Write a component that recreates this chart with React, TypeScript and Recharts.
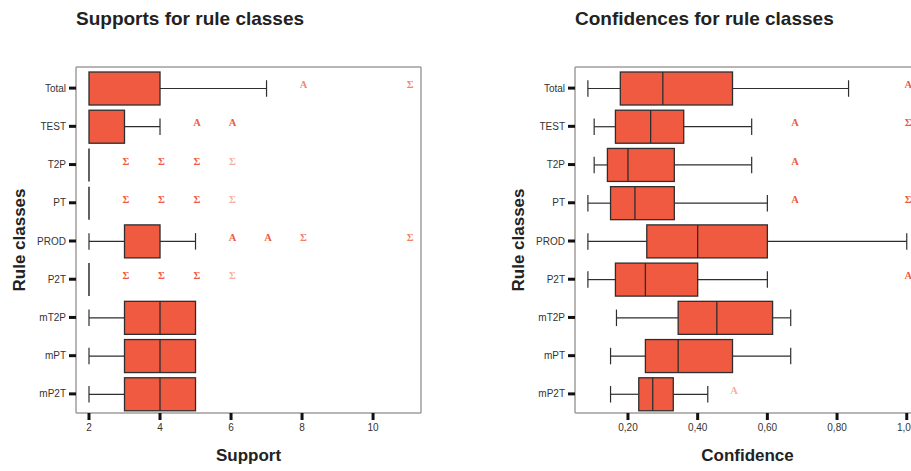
import React from 'react';
import { ComposedChart, Bar, Scatter, XAxis, YAxis, CartesianGrid, Label } from 'recharts';

const ruleClasses = ['Total', 'TEST', 'T2P', 'PT', 'PROD', 'P2T', 'mT2P', 'mPT', 'mP2T'];

// Support: five-number summary per rule class
const supportMin = [2, 2, 2, 2, 2, 2, 2, 2, 2];
const supportQ1 = [2, 2, 2, 2, 3, 2, 3, 3, 3];
const supportMedian = [2, 2, 2, 2, 3, 2, 4, 4, 4];
const supportQ3 = [4, 3, 2, 2, 4, 2, 5, 5, 5];
const supportMax = [7, 4, 2, 2, 5, 2, 5, 5, 5];
const supportOutliers = [[8, 11], [5, 6], [3, 4, 5, 6], [3, 4, 5, 6], [6, 7, 8, 11], [3, 4, 5, 6], [], [], []];
// 'o' = outlier, '*' = extreme
const supportOutlierMarks = [['o', '*'], ['o', 'o'], ['*', '*', '*', '*'], ['*', '*', '*', '*'], ['o', 'o', '*', '*'], ['*', '*', '*', '*'], [], [], []];
const supportOutlierShades = [[0.75, 0.75], [1, 1], [1, 1, 1, 0.5], [1, 1, 1, 0.5], [1, 1, 0.8, 0.8], [1, 1, 1, 0.5], [], [], []];
const supportTicks = [2, 4, 6, 8, 10];

// Confidence
const confMin = [0.085, 0.103, 0.103, 0.085, 0.085, 0.085, 0.167, 0.15, 0.15];
const confQ1 = [0.178, 0.164, 0.141, 0.15, 0.254, 0.164, 0.344, 0.25, 0.231];
const confMedian = [0.3, 0.265, 0.2, 0.22, 0.4, 0.25, 0.455, 0.344, 0.271];
const confQ3 = [0.5, 0.36, 0.333, 0.333, 0.6, 0.4, 0.615, 0.5, 0.33];
const confMax = [0.833, 0.555, 0.555, 0.6, 1.0, 0.6, 0.667, 0.667, 0.429];
const confOutliers = [[1.0], [0.675, 1.0], [0.675], [0.675, 1.0], [], [1.0], [], [], [0.5]];
const confOutlierMarks = [['o'], ['o', '*'], ['o'], ['o', '*'], [], ['o'], [], [], ['o']];
const confOutlierShades = [[1], [1, 1], [1], [1, 1], [], [1], [], [], [0.5]];
const confTicks = [0.2, 0.4, 0.6, 0.8, 1.0];

const BOX_FILL = '#f05a40';
const INK = '#2e2e2e';
const FONT = '"Liberation Sans", Arial, sans-serif';

const buildRows = (
  min: number[], q1: number[], med: number[], q3: number[], max: number[],
  outliers: number[][], marks: string[][], shades: number[][]
) =>
  ruleClasses.map((name, i) => {
    const row: any = { name, min: min[i], q1: q1[i], median: med[i], q3: q3[i], max: max[i] };
    outliers[i].forEach((v, k) => {
      row[`o${k}`] = v;
      row[`m${k}`] = marks[i][k];
      row[`s${k}`] = shades[i][k];
    });
    return row;
  });

const supportRows = buildRows(supportMin, supportQ1, supportMedian, supportQ3, supportMax,
  supportOutliers, supportOutlierMarks, supportOutlierShades);
const confRows = buildRows(confMin, confQ1, confMedian, confQ3, confMax,
  confOutliers, confOutlierMarks, confOutlierShades);

// bar spans [min, max]; inner positions scale linearly inside it
const BoxShape = (props: any) => {
  const { x, y, width, height, payload } = props;
  if (x == null || y == null || !payload) return null;
  const { min, q1, median, q3, max } = payload;
  const span = max - min;
  const cy = y + height / 2;
  if (!span) {
    return <line x1={x} x2={x} y1={y} y2={y + height} stroke={INK} strokeWidth={1.5} />;
  }
  const px = (v: number) => x + ((v - min) / span) * width;
  const capTop = cy - height / 4;
  const capBottom = cy + height / 4;
  return (
    <g>
      {min < q1 && (
        <g stroke={INK} strokeWidth={1.2}>
          <line x1={px(min)} x2={px(q1)} y1={cy} y2={cy} />
          <line x1={px(min)} x2={px(min)} y1={capTop} y2={capBottom} />
        </g>
      )}
      {max > q3 && (
        <g stroke={INK} strokeWidth={1.2}>
          <line x1={px(q3)} x2={px(max)} y1={cy} y2={cy} />
          <line x1={px(max)} x2={px(max)} y1={capTop} y2={capBottom} />
        </g>
      )}
      <rect x={px(q1)} y={y} width={px(q3) - px(q1)} height={height}
        fill={BOX_FILL} stroke={INK} strokeWidth={1.3} />
      {median > q1 && median < q3 && (
        <line x1={px(median)} x2={px(median)} y1={y} y2={y + height} stroke={INK} strokeWidth={1.3} />
      )}
    </g>
  );
};

const outlierShape = (k: number) => (props: any) => {
  const { cx, cy, payload } = props;
  if (!payload || payload[`o${k}`] == null || cx == null || isNaN(cx)) return null;
  return (
    <text x={cx + 1.5} y={cy} textAnchor="middle" fontSize={10.5} fontWeight="bold"
      fontFamily='"Liberation Serif", serif' fill={BOX_FILL} fillOpacity={payload[`s${k}`]}>
      {payload[`m${k}`] === '*' ? 'Σ' : 'A'}
    </text>
  );
};

const tickStyle = { fontSize: 10, fill: '#333', fontFamily: FONT };
const axisTitle = { fontSize: 17, fontWeight: 'bold' as const, fill: '#222', fontFamily: FONT };

interface PanelProps {
  rows: any[];
  domain: [number, number];
  ticks: number[];
  format: (v: number) => string;
  xLabel: string;
  left: number;
}

const Panel: React.FC<PanelProps> = ({ rows, domain, ticks, format, xLabel, left }) => (
  <div style={{ position: 'absolute', left, top: 0 }}>
    <ComposedChart width={440} height={471} data={rows} layout="vertical"
      margin={{ top: 67, right: 19, bottom: 0, left: 0 }}>
      <CartesianGrid
        stroke="#a39d9d"
        strokeWidth={1.5}
        horizontalCoordinatesGenerator={({ offset }: any) => [offset.top, offset.top + offset.height]}
        verticalCoordinatesGenerator={({ offset }: any) => [offset.left, offset.left + offset.width]}
      />
      <XAxis type="number" domain={domain} ticks={ticks} allowDataOverflow interval={0}
        tickFormatter={format} axisLine={false} tickLine={{ stroke: '#111', strokeWidth: 3 }}
        tickSize={7} tickMargin={4} height={58} tick={tickStyle}>
        <Label content={({ viewBox }: any) => (
          <text x={viewBox.x + viewBox.width / 2} y={viewBox.y + 48} textAnchor="middle" style={axisTitle}>
            {xLabel}
          </text>
        )} />
      </XAxis>
      <YAxis type="category" dataKey="name" width={76} interval={0} axisLine={false}
        tickLine={{ stroke: '#111', strokeWidth: 3 }} tickSize={7} tickMargin={3}
        padding={{ top: 2, bottom: 0 }} tick={tickStyle}>
        <Label content={({ viewBox }: any) => {
          const lx = viewBox.x + 25;
          const ly = viewBox.y + viewBox.height / 2;
          return (
            <text x={lx} y={ly} textAnchor="middle" transform={`rotate(-90, ${lx}, ${ly})`} style={axisTitle}>
              Rule classes
            </text>
          );
        }} />
      </YAxis>
      <Bar dataKey={(d: any) => [d.min, d.max]} barSize={33} shape={BoxShape} isAnimationActive={false} />
      {[0, 1, 2, 3].map((k) => (
        <Scatter key={k} dataKey={`o${k}`} shape={outlierShape(k)} isAnimationActive={false} />
      ))}
    </ComposedChart>
  </div>
);

export default function App() {
  return (
    <div style={{ position: 'absolute', left: 0, top: 0, width: 911, height: 471, overflow: 'hidden', background: '#fff' }}>
      <svg width={911} height={40} style={{ position: 'absolute', left: 0, top: 0 }}>
        <text x={76} y={25} fontSize={19} fontWeight="bold" fontFamily={FONT} fill="#222">
          Supports for rule classes
        </text>
        <text x={575} y={25} fontSize={19} fontWeight="bold" fontFamily={FONT} fill="#222">
          Confidences for rule classes
        </text>
      </svg>
      <Panel rows={supportRows} domain={[1.634, 11.35]} ticks={supportTicks}
        format={(v) => String(v)} xLabel="Support" left={0} />
      <Panel rows={confRows} domain={[0.048, 1.038]} ticks={confTicks}
        format={(v) => v.toFixed(2).replace('.', ',')} xLabel="Confidence" left={499} />
    </div>
  );
}
